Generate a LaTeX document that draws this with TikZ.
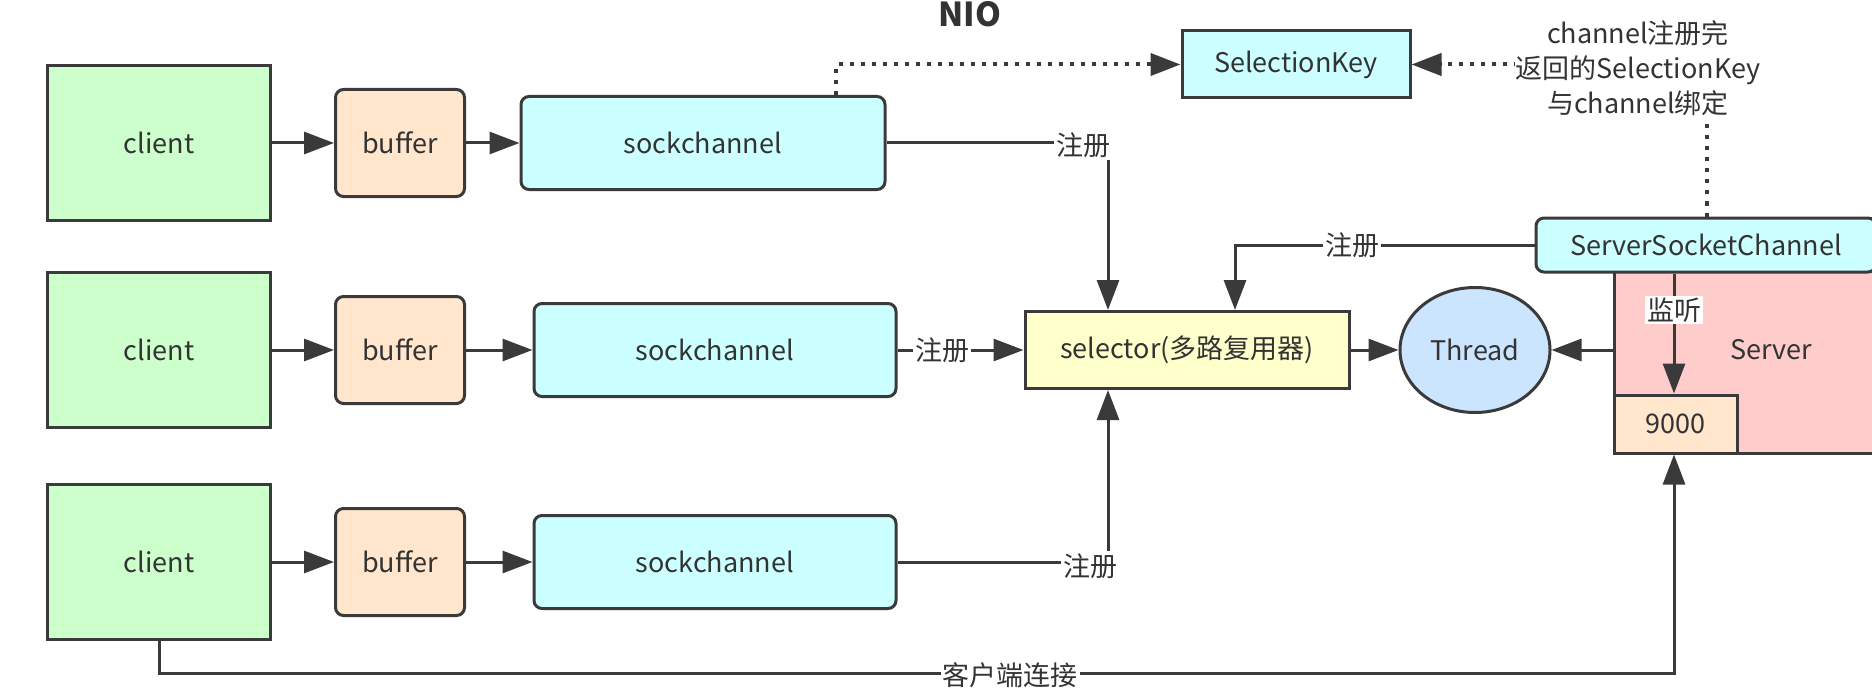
\documentclass[tikz,border=0pt]{standalone}
\usepackage{fontspec}
\setmainfont{Noto Sans CJK SC}
\usetikzlibrary{arrows.meta,shapes.geometric}
\definecolor{ln}{HTML}{3A3A3A}
\definecolor{tx}{HTML}{333333}
\definecolor{cgreen}{HTML}{CCFFCC}
\definecolor{cpeach}{HTML}{FFE6CC}
\definecolor{ccyan}{HTML}{CCFFFF}
\definecolor{cyellow}{HTML}{FFFFCC}
\definecolor{cblue}{HTML}{CCE5FF}
\definecolor{cpink}{HTML}{FFCCCC}
\begin{document}
\begin{tikzpicture}[x=1bp,y=-1bp,
  every node/.style={font=\fontsize{27bp}{35bp}\selectfont, text=tx},
  box/.style={draw=ln, line width=3bp, inner sep=0pt},
  clientbox/.style={box, fill=cgreen, minimum width=222bp, minimum height=155bp},
  bufbox/.style={box, fill=cpeach, rounded corners=8bp, minimum width=129bp, minimum height=107bp},
  sockbox/.style={box, fill=ccyan, rounded corners=8bp, minimum height=93bp},
  sqbox/.style={box, fill=ccyan},
  lab/.style={fill=white, inner sep=2bp},
  conn/.style={draw=ln, line width=3bp},
  arr/.style={conn, -{Triangle[length=30bp,width=22bp]}},
  dotarr/.style={arr, line width=4bp, dash pattern=on 4bp off 7bp},
]
\useasboundingbox (0,0) rectangle (1872,694);

% title
\node[font=\fontsize{33bp}{36bp}\selectfont\bfseries, anchor=base] (title) at (970,27) {NIO};

% row 1
\node[clientbox] (c1) at (159,143) {client};
\node[bufbox] (b1) at (400,143) {buffer};
\node[sockbox, minimum width=364bp] (s1) at (703,143) {sockchannel};
% row 2
\node[clientbox] (c2) at (159,350) {client};
\node[bufbox] (b2) at (400,350) {buffer};
\node[sockbox, minimum width=362bp] (s2) at (715,350) {sockchannel};
% row 3
\node[clientbox] (c3) at (159,562) {client};
\node[bufbox] (b3) at (400,562) {buffer};
\node[sockbox, minimum width=362bp] (s3) at (715,562) {sockchannel};

% selector, thread
\node[box, fill=cyellow, minimum width=324bp, minimum height=77bp] (sel) at (1187,350) {selector(多路复用器)};
\node[box, ellipse, fill=cblue, minimum width=150bp, minimum height=125bp] (thr) at (1475,350) {Thread};

% server
\node[box, fill=cpink, minimum width=314bp, minimum height=214bp] (srv) at (1771,346) {};
\node (srvt) at (1771,350) {Server};
\node[box, fill=cpeach, minimum width=123bp, minimum height=58bp] (port) at (1675.5,424) {9000};
\node[box, fill=ccyan, rounded corners=8bp, minimum width=340bp, minimum height=54bp] (ssc) at (1706,245) {ServerSocketChannel};

% selection key
\node[sqbox, minimum width=228bp, minimum height=67bp] (sk) at (1296,64.5) {SelectionKey};

% helper coordinates
\coordinate (v1) at (1108,0);
\coordinate (v2) at (1235,0);
\coordinate (v3) at (1674,0);
\coordinate (v4) at (836,0);
\coordinate (v5) at (1707,0);
\coordinate (hb) at (0,673);
\coordinate (v6) at (159,0);

% row arrows
\draw[arr] (c1) -- (b1);
\draw[arr] (b1) -- (s1);
\draw[arr] (c2) -- (b2);
\draw[arr] (b2) -- (s2);
\draw[arr] (c3) -- (b3);
\draw[arr] (b3) -- (s3);

% registrations
\draw[arr] (s1.east) -| (v1 |- sel.north);
\draw[arr] (s2.east) -- (sel.west);
\draw[arr] (s3.east) -| (v1 |- sel.south);
\draw[arr] (ssc.west) -| (v2 |- sel.north);

\draw[arr] (sel.east) -- (thr.west);
\draw[arr] (srv.west |- thr.east) -- (thr.east);

% listen
\draw[arr] (v3 |- ssc.south) -- (v3 |- port.north);

% client connect
\draw[arr] (v6 |- c3.south) -- (v6 |- hb) -| (v3 |- port.south);

% dotted
\draw[dotarr] (v4 |- s1.north) |- (sk.west);
\draw[dotarr] (v5 |- ssc.north) |- (sk.east);

% labels
\node[lab] (l1) at (1083,145) {注册};
\node[lab] (l2) at (942,350) {注册};
\node[lab] (l3) at (1090,566) {注册};
\node[lab] (l4) at (1352,245) {注册};
\node[lab] (l5) at (1674,310) {监听};
\node[lab] (l6) at (1010,675) {客户端连接};
\node[lab, align=center, inner sep=1bp] (l7) at (1638,68) {channel注册完\\返回的SelectionKey\\与channel绑定};
\end{tikzpicture}
\end{document}
